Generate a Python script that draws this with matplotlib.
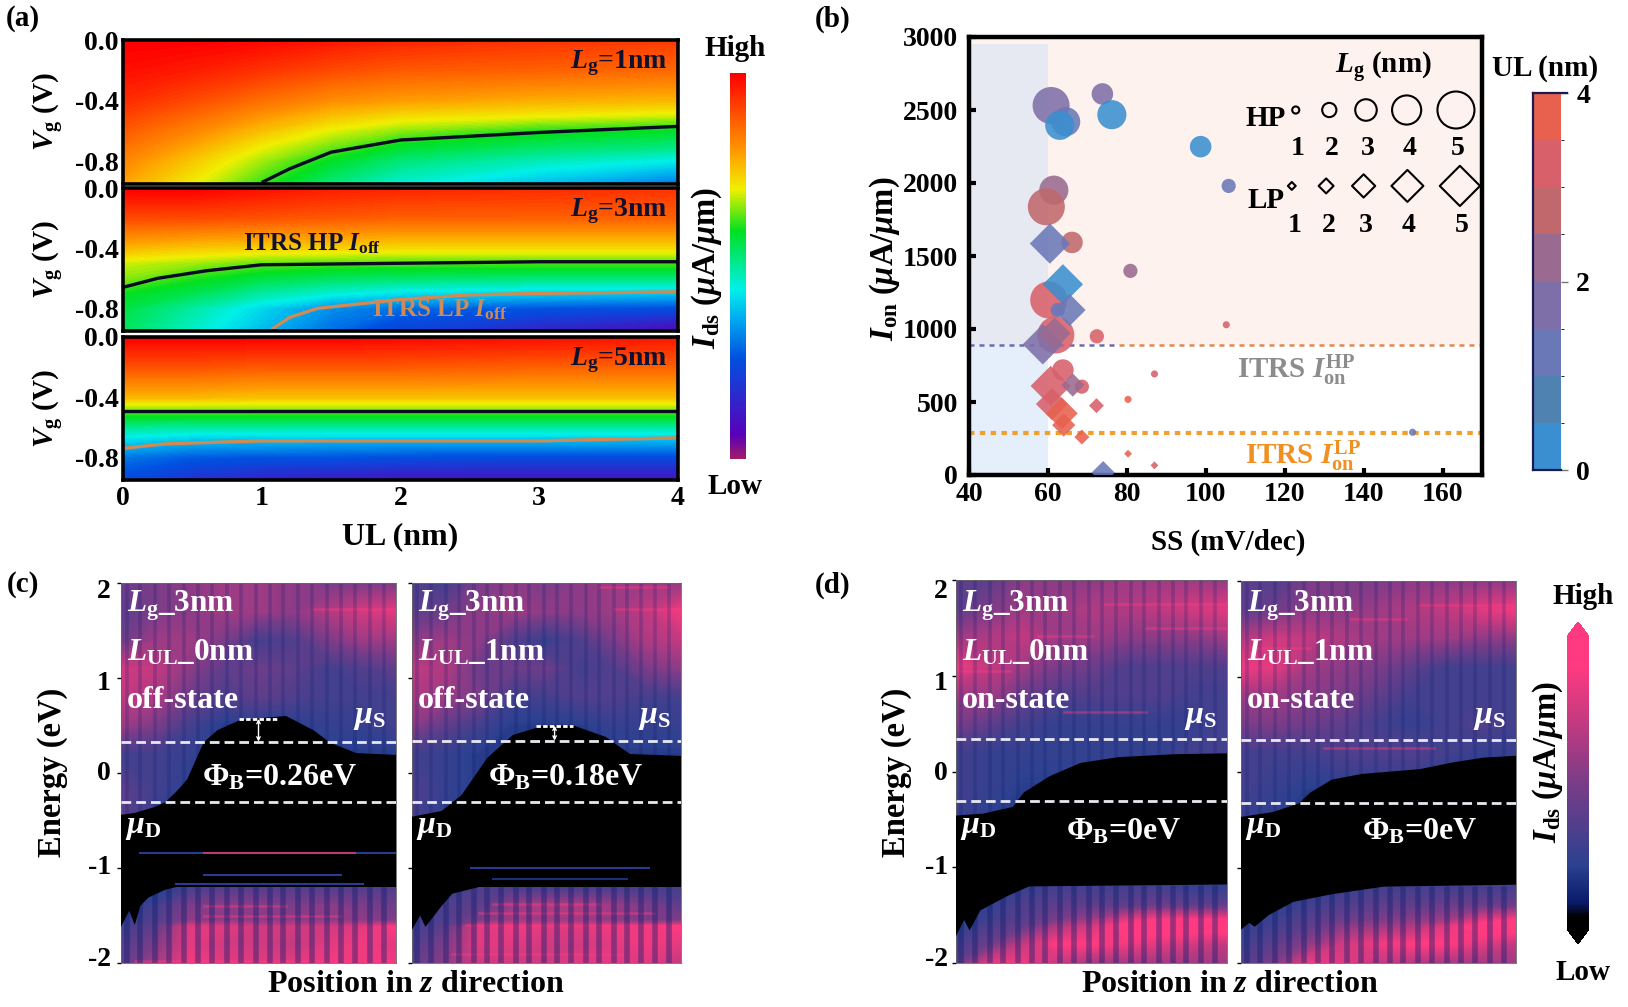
"""
Device figure: Ids maps vs UL, Ion vs SS scatter, and LDOS-like energy maps
"""
import numpy as np
import matplotlib
matplotlib.use("Agg")
import matplotlib.pyplot as plt
from matplotlib.colors import LinearSegmentedColormap, ListedColormap, BoundaryNorm, Normalize
from matplotlib.cm import ScalarMappable

plt.rcParams['font.family'] = ['Liberation Serif', 'DejaVu Serif']
plt.rcParams['font.weight'] = 'bold'
plt.rcParams['mathtext.fontset'] = 'custom'
plt.rcParams['mathtext.rm'] = 'Liberation Serif:bold'
plt.rcParams['mathtext.it'] = 'Liberation Serif:italic:bold'
plt.rcParams['mathtext.bf'] = 'Liberation Serif:bold'

W, H = 1628, 1007

# ---- panel (a), values are colour positions 0 (low) .. 1 (high)
ul_grid = [0, 0.5, 1, 1.5, 2, 3, 4]
vg_grid = [0, -0.2, -0.4, -0.5, -0.6, -0.7, -0.8, -0.95]
ids_1nm = [[1.00, 1.00, 0.99, 0.97, 0.95, 0.93, 0.92],
           [0.98, 0.96, 0.93, 0.90, 0.88, 0.87, 0.86],
           [0.94, 0.90, 0.85, 0.81, 0.79, 0.77, 0.76],
           [0.91, 0.86, 0.80, 0.75, 0.72, 0.70, 0.68],
           [0.88, 0.82, 0.75, 0.69, 0.65, 0.60, 0.58],
           [0.85, 0.78, 0.70, 0.64, 0.58, 0.54, 0.52],
           [0.82, 0.74, 0.66, 0.58, 0.52, 0.47, 0.43],
           [0.78, 0.70, 0.61, 0.52, 0.45, 0.38, 0.30]]
ids_3nm = [[1.00, 1.00, 0.98, 0.96, 0.95, 0.94, 0.93],
           [0.90, 0.90, 0.89, 0.88, 0.87, 0.87, 0.87],
           [0.76, 0.74, 0.73, 0.73, 0.72, 0.72, 0.72],
           [0.68, 0.66, 0.63, 0.62, 0.62, 0.62, 0.62],
           [0.65, 0.60, 0.56, 0.54, 0.53, 0.52, 0.52],
           [0.59, 0.55, 0.49, 0.45, 0.42, 0.40, 0.39],
           [0.56, 0.49, 0.41, 0.33, 0.29, 0.26, 0.25],
           [0.54, 0.46, 0.38, 0.29, 0.22, 0.14, 0.06]]
ids_5nm = [[1.00, 1.00, 1.00, 1.00, 0.99, 0.98, 0.97],
           [0.89, 0.89, 0.88, 0.88, 0.88, 0.87, 0.87],
           [0.76, 0.76, 0.75, 0.75, 0.75, 0.75, 0.75],
           [0.62, 0.62, 0.62, 0.62, 0.62, 0.62, 0.62],
           [0.50, 0.49, 0.49, 0.49, 0.49, 0.49, 0.49],
           [0.40, 0.37, 0.37, 0.36, 0.36, 0.36, 0.36],
           [0.30, 0.27, 0.26, 0.26, 0.25, 0.24, 0.24],
           [0.24, 0.18, 0.14, 0.12, 0.10, 0.10, 0.10]]
hp_ul = [[1.0, 1.2, 1.5, 2.0, 3.0, 4.0],
         [0.0, 0.25, 0.6, 1.0, 2.0, 3.0, 4.0],
         [0.0, 2.0, 4.0]]
hp_vg = [[-0.94, -0.85, -0.74, -0.66, -0.61, -0.57],
         [-0.66, -0.60, -0.55, -0.51, -0.50, -0.49, -0.49],
         [-0.49, -0.49, -0.49]]
lp_ul = [[], [1.07, 1.2, 1.4, 2.0, 2.5, 3.0, 4.0], [0.0, 0.3, 1.0, 2.0, 3.0, 4.0]]
lp_vg = [[], [-0.94, -0.86, -0.80, -0.74, -0.71, -0.70, -0.69], [-0.74, -0.71, -0.69, -0.69, -0.69, -0.67]]
lg_labels = ['1', '3', '5']
rainbow_pos = [0.0, 0.06, 0.26, 0.36, 0.44, 0.59, 0.70, 0.79, 1.0]
rainbow_col = ['#a01a6a', '#5a00b8', '#0050e0', '#00a8f0', '#00f0e8', '#00e020', '#f0f000', '#ffa000', '#ff0000']

# ---- panel (b)
hp_ss = [60.8, 64.5, 63.0, 73.8, 76.2, 98.7, 105.8, 61.5, 59.6, 66.1, 80.9, 60.2, 62.0, 72.4, 105.2, 63.8, 68.6, 87.0, 80.3, 152.4, 62.5]
hp_ion = [2531, 2420, 2395, 2610, 2468, 2249, 1980, 1951, 1837, 1593, 1398, 1199, 959, 950, 1029, 719, 605, 692, 518, 293, 1130]
hp_lg = [5, 4, 4, 3, 4, 3, 2, 4, 5, 3, 2, 5, 5, 2, 1, 3, 2, 1, 1, 1, 2]
hp_ul_pts = [1.6, 1.2, 0.2, 1.7, 0.2, 0.2, 1.2, 2.2, 2.6, 2.6, 2.3, 3.2, 3.2, 3.2, 3.0, 3.2, 3.2, 3.0, 3.7, 1.2, 1.2]
lp_ss = [60.5, 63.8, 65.5, 58.7, 61.7, 60.7, 66.3, 61.0, 63.5, 64.0, 72.3, 68.6, 80.3, 87.0, 74.0]
lp_ion = [1585, 1306, 1130, 895, 970, 610, 616, 486, 422, 342, 475, 260, 146, 66, 16]
lp_lg = [5, 5, 4, 5, 4, 5, 3, 4, 4, 3, 2, 2, 1, 1, 3]
lp_ul_pts = [1.2, 0.2, 1.2, 1.8, 2.1, 3.1, 2.2, 3.2, 3.7, 3.7, 3.0, 3.7, 3.7, 3.2, 1.2]
band_edges = [0, 0.5, 1, 1.5, 2, 2.5, 3, 3.5, 4]
band_col = ['#3a8fd0', '#4f82b0', '#6a78b8', '#7f6fa8', '#9a6a90', '#c0686c', '#d8606a', '#e8604e']
circle_s = {1: 26, 2: 105, 3: 240, 4: 440, 5: 710}
diamond_s = {1: 16, 2: 58, 3: 140, 4: 265, 5: 420}
key_lg = [1, 2, 3, 4, 5]
key_c_ss = [122.8, 131.3, 140.6, 150.9, 163.4]
key_d_ss = [121.8, 130.5, 140.0, 151.1, 164.4]
key_c_ion = 2500
key_d_ion = 1980
itrs_hp_ion = 890
itrs_lp_ion = 285

# ---- panels (c), (d)
pos_grid = [0, 0.125, 0.25, 0.375, 0.5, 0.625, 0.75, 0.875, 1]
en_grid = [2, 1.7, 1.4, 1.1, 0.8, 0.5, 0.2, -0.2, -0.6, -1.2, -1.4, -1.55, -1.62, -1.8, -2]
map_c0 = [[.45, .50, .55, .60, .60, .55, .50, .50, .50],
          [.40, .50, .55, .60, .60, .55, .65, .75, .80],
          [.45, .60, .60, .50, .30, .35, .50, .60, .60],
          [.75, .70, .55, .40, .45, .40, .30, .35, .40],
          [.70, .65, .45, .35, .40, .35, .30, .30, .30],
          [.60, .50, .30, .20, .20, .20, .25, .25, .30],
          [.30, .30, .25, .20, .20, .20, .20, .20, .20],
          [.40, .30, .20, .20, .20, .20, .20, .20, .20],
          [.40, .20, .20, .20, .20, .20, .20, .20, .20],
          [.10, .15, .30, .35, .35, .35, .35, .35, .35],
          [.20, .30, .50, .55, .55, .50, .55, .50, .45],
          [.25, .35, .55, .55, .55, .55, .55, .55, .50],
          [.30, .40, .80, .80, .75, .75, .75, .80, .90],
          [.35, .50, .80, .75, .75, .70, .80, .85, .80],
          [.40, .60, .85, .80, .80, .80, .85, .85, .85]]
map_c1 = [[.35, .30, .50, .55, .50, .55, .60, .60, .55],
          [.40, .45, .55, .60, .55, .55, .60, .70, .85],
          [.55, .60, .55, .35, .25, .35, .50, .65, .70],
          [.70, .65, .45, .45, .45, .30, .35, .50, .55],
          [.65, .60, .50, .30, .30, .35, .35, .30, .30],
          [.55, .40, .30, .20, .20, .20, .25, .25, .25],
          [.30, .25, .20, .20, .20, .20, .20, .20, .20],
          [.35, .25, .20, .20, .20, .20, .20, .20, .20],
          [.30, .20, .20, .20, .20, .20, .20, .20, .20],
          [.10, .20, .35, .30, .30, .30, .30, .30, .30],
          [.20, .35, .40, .60, .65, .65, .60, .50, .40],
          [.25, .35, .50, .60, .60, .60, .55, .50, .50],
          [.30, .40, .80, .85, .80, .80, .85, .85, .90],
          [.35, .50, .80, .80, .75, .75, .80, .85, .80],
          [.40, .55, .75, .75, .75, .80, .80, .80, .70]]
map_d0 = [[.40, .40, .55, .55, .55, .60, .60, .60, .55],
          [.40, .50, .60, .60, .65, .65, .70, .75, .80],
          [.60, .65, .70, .60, .60, .55, .55, .55, .60],
          [.85, .70, .60, .50, .45, .35, .35, .35, .35],
          [.60, .60, .45, .35, .35, .35, .35, .30, .30],
          [.50, .40, .30, .25, .25, .25, .25, .25, .30],
          [.30, .25, .25, .25, .25, .25, .25, .30, .30],
          [.30, .25, .20, .20, .20, .20, .20, .20, .20],
          [.25, .20, .20, .20, .20, .20, .20, .20, .20],
          [.10, .15, .25, .30, .30, .30, .30, .25, .25],
          [.15, .25, .35, .40, .40, .40, .45, .40, .40],
          [.18, .30, .38, .50, .60, .80, .90, .90, .90],
          [.20, .35, .42, .65, .75, .95, .98, .98, .98],
          [.30, .45, .70, .90, .90, .85, .80, .75, .70],
          [.40, .80, .85, .70, .60, .60, .60, .60, .60]]
map_d1 = [[.40, .35, .50, .50, .50, .55, .55, .55, .55],
          [.40, .45, .55, .55, .60, .65, .70, .80, .85],
          [.65, .75, .70, .65, .60, .60, .60, .55, .55],
          [.85, .80, .60, .55, .50, .40, .30, .30, .30],
          [.60, .60, .55, .50, .40, .30, .30, .30, .30],
          [.50, .50, .45, .40, .30, .25, .30, .35, .30],
          [.30, .30, .30, .35, .35, .35, .30, .25, .25],
          [.30, .25, .20, .20, .20, .20, .20, .20, .20],
          [.25, .20, .20, .20, .20, .20, .20, .20, .20],
          [.10, .15, .20, .25, .30, .30, .30, .30, .30],
          [.15, .20, .30, .35, .40, .40, .45, .45, .45],
          [.22, .28, .38, .45, .50, .55, .60, .80, .90],
          [.25, .30, .40, .55, .60, .65, .80, .98, .98],
          [.30, .40, .55, .75, .85, .90, .90, .80, .70],
          [.35, .50, .85, .80, .70, .65, .60, .60, .60]]
top_pos = [[0, .05, .12, .16, .20, .24, .30, .35, .435, .6, .70, .76, .855, 1],
           [0, .11, .185, .28, .375, .49, .6, .72, .81, 1],
           [0, .10, .21, .25, .345, .46, .6, .8, 1],
           [0, .115, .21, .25, .33, .44, .65, .77, .88, 1]]
top_en = [[-.44, -.42, -.36, -.31, -.2, -.07, .32, .45, .56, .60, .45, .32, .21, .19],
          [-.46, -.40, -.23, .16, .40, .50, .50, .38, .20, .18],
          [-.46, -.44, -.37, -.22, -.05, .09, .15, .18, .19],
          [-.47, -.42, -.33, -.22, -.08, -.02, .03, .10, .15, .17]]
low_pos = [[0, .03, .05, .07, .10, .16, .20, 1],
           [0, .03, .05, .11, .15, .25, 1],
           [0, .03, .05, .09, .19, .27, 1],
           [0, .03, .05, .10, .19, .33, .52, 1]]
low_en = [[-1.62, -1.45, -1.6, -1.4, -1.31, -1.23, -1.2, -1.2],
          [-1.65, -1.5, -1.62, -1.4, -1.27, -1.2, -1.2],
          [-1.72, -1.55, -1.66, -1.45, -1.3, -1.2, -1.18],
          [-1.65, -1.58, -1.62, -1.5, -1.36, -1.28, -1.2, -1.18]]
layer_pos = [.02, .07, .125, .175, .23, .28, .33, .385, .435, .49, .54, .59, .645, .695, .75, .80, .85, .905, .955]
mu_s = [0.33, 0.34, 0.34, 0.33]
mu_d = [-0.31, -0.31, -0.31, -0.32]
state_lab = ['off-state', 'off-state', 'on-state', 'on-state']
ul_lab = ['0', '1', '0', '1']
phi_lab = ['0.26', '0.18', '0', '0']
map_col = ['#000000', '#000000', '#0a1a6a', '#2c4190', '#7a3c88', '#c03a80', '#ff3a80', '#ff3a80']
map_pos = [0, .04, .09, .22, .5, .7, .9, 1]
# thin lines that show through the black gap: panel, energy, start, stop, colour
gap_panel = [0, 0, 0, 0, 1, 1]
gap_en = [-.84, -.84, -1.17, -1.07, -1.0, -1.12]
gap_start = [.07, .3, .2, .3, .22, .3]
gap_stop = [1, .85, .88, .8, .88, .8]
gap_col = ['#2a3a90', '#c03a70', '#2a3a90', '#2a3a90', '#2a3a90', '#1f2c78']
# horizontal streaks in the bright regions: panel, energy, start, stop
streak_panel = [0, 0, 0, 0, 0, 1, 1, 1, 1, 1, 1, 2, 2, 2, 2, 2, 3, 3, 3, 3]
streak_en = [1.73, 2.03, -1.5, -1.4, -1.98, 1.73, 1.96, -1.38, -1.47, -1.6, -1.9, 1.75, 1.42, 1.05, 0.62, 1.5, 1.75, 1.3, 1.6, 0.25]
streak_start = [.7, .3, .3, .3, .05, .75, .7, .3, .25, .2, .15, .55, .3, 0, .4, .7, .65, .05, .4, .3]
streak_stop = [1, .7, .8, .6, 1, 1, .95, .7, .9, 1, .8, 1, .5, .2, .7, 1, 1, .25, .6, .7]


def px_axes(l, t, r, b):
    return fig.add_axes([l / W, 1 - b / H, (r - l) / W, (b - t) / H])


def put(x, y, s, **kw):
    kw.setdefault('ha', 'center')
    kw.setdefault('va', 'center')
    kw.setdefault('color', 'k')
    return fig.text(x / W, 1 - y / H, s, **kw)


fig = plt.figure(figsize=(W / 100, H / 100), dpi=100)
rainbow = LinearSegmentedColormap.from_list('rb', list(zip(rainbow_pos, rainbow_col)), N=256)

# (a)
rows_a = [(40, 184), (188, 331), (337, 480)]
for i, (z, top, bot) in enumerate(zip([ids_1nm, ids_3nm, ids_5nm],
                                      [r[0] for r in rows_a], [r[1] for r in rows_a])):
    ax = px_axes(123, top, 678, bot)
    ax.contourf(ul_grid, vg_grid, z, levels=np.linspace(0, 1, 129), cmap=rainbow, antialiased=False)
    ax.plot(hp_ul[i], hp_vg[i], color='#0a0a20', lw=2.4, solid_capstyle='butt')
    if lp_ul[i]:
        ax.plot(lp_ul[i], lp_vg[i], color='#d08a55', lw=2.4, solid_capstyle='butt')
    ax.set_xlim(0, 4)
    ax.set_ylim(-0.95, 0)
    ax.set_yticks([0, -0.4, -0.8])
    ax.set_yticklabels(['0.0', '-0.4', '-0.8'], fontsize=20)
    ax.tick_params(length=0, pad=3)
    if i == 2:
        ax.set_xticks([0, 1, 2, 3, 4])
        ax.set_xticklabels(['0', '1', '2', '3', '4'], fontsize=20)
        ax.tick_params(axis='x', pad=4)
    else:
        ax.set_xticks([])
    for s in ax.spines.values():
        s.set_linewidth(2.6)
    ax.text(0.98, 0.84, r'$L_{\mathrm{g}}$=' + lg_labels[i] + 'nm', transform=ax.transAxes,
            ha='right', va='center', fontsize=20, color='#101030')
    put(48, (top + bot) / 2, r'$V_{\mathrm{g}}$ (V)', rotation=90, fontsize=21)
    if i == 1:
        ax.text(1.36, -0.37, r'ITRS HP $I_{\mathrm{off}}$', ha='center', va='center', fontsize=18, color='#101030')
        ax.text(2.28, -0.81, r'ITRS LP $I_{\mathrm{off}}$', ha='center', va='center', fontsize=18, color='#d08a55')
put(400, 537, 'UL (nm)', fontsize=23)
put(23, 19, '(a)', fontsize=21)
cax = px_axes(730, 73, 746, 459)
cb = fig.colorbar(ScalarMappable(Normalize(0, 1), rainbow), cax=cax)
cb.set_ticks([])
cb.outline.set_visible(False)
put(735, 48, 'High', fontsize=21)
put(735, 487, 'Low', fontsize=21)
put(707, 268, r'$I_{\mathrm{ds}}$ ($\mu$A/$\mu$m)', rotation=90, fontsize=23.5)

# (b)
ax = px_axes(969, 37, 1482, 475)
ul_cmap = ListedColormap(band_col)
ul_norm = BoundaryNorm(band_edges, ul_cmap.N)
ax.axhspan(itrs_hp_ion, 3000, color='#fdf2ee', lw=0, zorder=0)
ax.axvspan(40, 60, ymin=itrs_hp_ion / 3000, ymax=0.985, color='#e6e8f2', lw=0, zorder=0.5)
ax.axvspan(40, 60, ymin=0, ymax=itrs_hp_ion / 3000, color='#e5eefb', lw=0, zorder=0.5)
ax.plot([40, 78], [itrs_hp_ion, itrs_hp_ion], ls=(0, (2, 2)), color='#6d6cae', lw=1.8, zorder=1)
ax.plot([78, 170], [itrs_hp_ion, itrs_hp_ion], ls=(0, (2, 2)), color='#e08a50', lw=1.8, zorder=1)
ax.plot([40, 170], [itrs_lp_ion, itrs_lp_ion], ls=(0, (1.3, 1.3)), color='#f0a030', lw=3, zorder=1)
ax.scatter(hp_ss, hp_ion, s=[circle_s[k] for k in hp_lg], c=hp_ul_pts, cmap=ul_cmap, norm=ul_norm,
           marker='o', linewidths=0, alpha=0.88, zorder=2)
ax.scatter(lp_ss, lp_ion, s=[diamond_s[k] for k in lp_lg], c=lp_ul_pts, cmap=ul_cmap, norm=ul_norm,
           marker='D', linewidths=0, alpha=0.88, zorder=3)
ax.scatter(key_c_ss, [key_c_ion] * 5, s=[circle_s[k] for k in key_lg], facecolors='none',
           edgecolors='k', linewidths=1.5, marker='o', zorder=4)
ax.scatter(key_d_ss, [key_d_ion] * 5, s=[diamond_s[k] for k in key_lg], facecolors='none',
           edgecolors='k', linewidths=1.5, marker='D', zorder=4)
ax.set_xlim(40, 170)
ax.set_ylim(0, 3000)
ax.set_xticks([40, 60, 80, 100, 120, 140, 160])
ax.set_yticks([0, 500, 1000, 1500, 2000, 2500, 3000])
ax.tick_params(axis='both', direction='in', length=5, width=3, labelsize=20, pad=5)
ax.tick_params(axis='y', pad=8)
for s in ax.spines.values():
    s.set_linewidth(3.2)
put(1228, 542, 'SS (mV/dec)', fontsize=21)
put(885, 259, r'$I_{\mathrm{on}}$ ($\mu$A/$\mu$m)', rotation=90, fontsize=23.5)
put(833, 19, '(b)', fontsize=21)
put(1383, 68, r'$L_{\mathrm{g}}$ (nm)', fontsize=21)
put(1545, 68, 'UL (nm)', fontsize=21)
put(1266, 118, 'HP', fontsize=21)
put(1266, 200, 'LP', fontsize=21)
for x, t in zip([1298, 1332, 1368, 1410, 1458], key_lg):
    put(x, 149, str(t), fontsize=20)
for x, t in zip([1295, 1329, 1366, 1409, 1462], key_lg):
    put(x, 226, str(t), fontsize=20)
put(1296, 370, r'ITRS $I_{\mathrm{on}}^{\mathrm{HP}}$', fontsize=21, color='#8c8c8c')
put(1303, 456, r'ITRS $I_{\mathrm{on}}^{\mathrm{LP}}$', fontsize=21, color='#f09020')
cax = px_axes(1533, 93, 1561, 470)
cb = fig.colorbar(ScalarMappable(ul_norm, ul_cmap), cax=cax, ticks=[0, 2, 4], spacing='proportional')
cb.ax.tick_params(length=5, width=1, color='#777777', labelsize=20, pad=6)
cb.ax.set_yticklabels(['0', '2', '4'])
cb.outline.set_linewidth(0)
cb.ax.plot([0, 0], [0, 4], color='#1a1a50', lw=1.6, clip_on=False)
cb.ax.plot([0, 1.2], [4, 4], color='#1a1a50', lw=1.6, clip_on=False)
cb.ax.plot([0, 1], [0, 0], color='#1a1a50', lw=1.6, clip_on=False)

# (c), (d)
pink = LinearSegmentedColormap.from_list('pk', list(zip(map_pos, map_col)), N=256)
pink.set_under('#000000')
pink.set_over('#ff3a80')
boxes = [(121, 583, 396, 963), (412, 583, 681, 963), (956, 580, 1227, 963), (1241, 581, 1516, 963)]
phi_off = [21, 19, 32, 41]
for i, z in enumerate([map_c0, map_c1, map_d0, map_d1]):
    ax = px_axes(*boxes[i])
    ax.contourf(pos_grid, en_grid, z, levels=np.linspace(0, 1, 129), cmap=pink, antialiased=False, zorder=1)
    for p, e, a, b in zip(streak_panel, streak_en, streak_start, streak_stop):
        if p == i:
            ax.plot([a, b], [e, e], color='#ff3a80', lw=1.8, alpha=0.45, zorder=1.5)
    ax.vlines(layer_pos, -1.2, 2, color='#0e1c70', lw=2.6, alpha=0.22, zorder=2)
    ax.vlines(layer_pos, -2, -1.2, color='#0e1c70', lw=4, alpha=0.4, zorder=2)
    ax.fill(top_pos[i] + low_pos[i][::-1], top_en[i] + low_en[i][::-1], color='k', lw=0, zorder=3)
    if i < 2:
        for p, e, a, b, c in zip(gap_panel, gap_en, gap_start, gap_stop, gap_col):
            if p == i:
                ax.plot([a, b], [e, e], color=c, lw=1.5, zorder=4)
    ax.axhline(mu_s[i], color='#e8e8f0', lw=2, ls=(0, (3.5, 1.8)), zorder=5)
    ax.axhline(mu_d[i], color='#e8e8f0', lw=2, ls=(0, (3.5, 1.8)), zorder=5)
    if i < 2:
        peak = [0.6, 0.53][i]
        cx = [0.5, 0.53][i]
        ax.plot([cx - 0.07, cx + 0.07], [peak - 0.03, peak - 0.03], color='w', lw=2, ls=(0, (1.6, 0.8)), zorder=6)
        ax.annotate('', xy=(cx, mu_s[i]), xytext=(cx, peak - 0.03),
                    arrowprops=dict(arrowstyle='<->', color='w', lw=1, mutation_scale=6, shrinkA=0, shrinkB=0), zorder=6)
    ax.set_xlim(0, 1)
    ax.set_ylim(-2, 2)
    ax.set_xticks([])
    ax.set_yticks([-2, -1, 0, 1, 2])
    ax.set_yticklabels([])
    ax.tick_params(axis='y', length=3, width=1, direction='out')
    for s in ax.spines.values():
        s.set_linewidth(0.6)
        s.set_color('#666666')
    l = boxes[i][0]
    r = boxes[i][2]
    put(l + 6, 606, r'$L_{\mathrm{g}}$_3nm', ha='left', color='w', fontsize=22.5)
    put(l + 6, 653, r'$L_{\mathrm{UL}}$_' + ul_lab[i] + 'nm', ha='left', color='w', fontsize=22.5)
    put(l + 6, 700, state_lab[i], ha='left', color='w', fontsize=23)
    put(r - 27, 718, r'$\mu_{\mathrm{S}}$', color='w', fontsize=23)
    put(l + 22, 827, r'$\mu_{\mathrm{D}}$', color='w', fontsize=23)
    phi_y = 778 if i < 2 else 832
    put((l + r) / 2 + phi_off[i], phi_y, r'$\mathit{\Phi}_{\mathrm{B}}$=' + phi_lab[i] + 'eV', color='w', fontsize=23)

for x0 in [111, 948]:
    for y, t in zip([591, 684, 774, 867, 960], ['2', '1', '0', '-1', '-2']):
        put(x0, y, t, ha='right', fontsize=20)
put(53, 772, 'Energy (eV)', rotation=90, fontsize=23.5)
put(897, 772, 'Energy (eV)', rotation=90, fontsize=23.5)
put(416, 985, r'Position in $z$ direction', fontsize=23)
put(1230, 985, r'Position in $z$ direction', fontsize=23)
put(23, 585, '(c)', fontsize=21)
put(833, 585, '(d)', fontsize=21)
cax = px_axes(1567, 622, 1589, 944)
cb = fig.colorbar(ScalarMappable(Normalize(0, 1), pink), cax=cax, extend='both', extendfrac=0.05)
cb.set_ticks([])
cb.outline.set_visible(False)
put(1583, 597, 'High', fontsize=21)
put(1583, 973, 'Low', fontsize=21)
put(1548, 762, r'$I_{\mathrm{ds}}$ ($\mu$A/$\mu$m)', rotation=90, fontsize=23.5)

fig.savefig('out.png', dpi=100)
